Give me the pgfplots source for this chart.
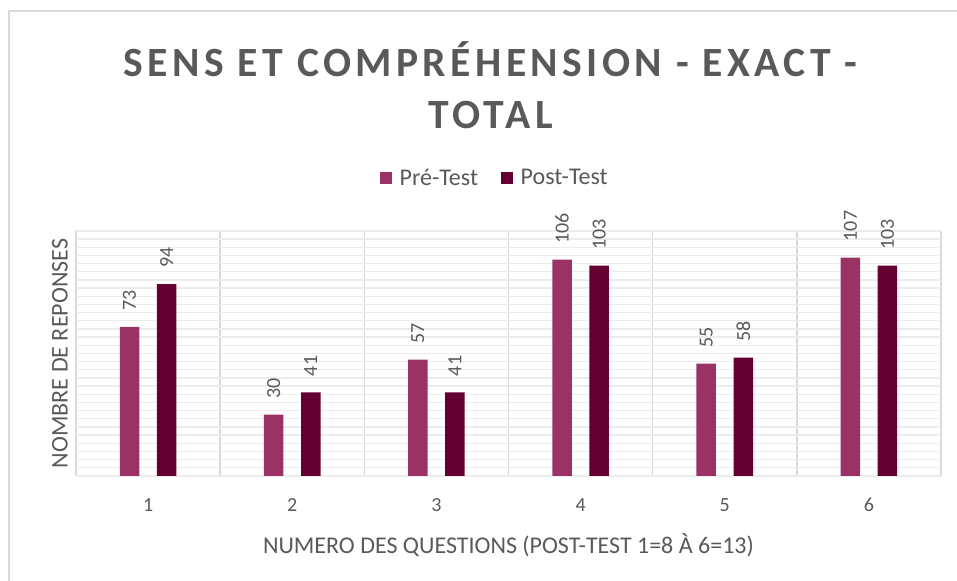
\documentclass[border=0pt]{standalone}
\usepackage{fontspec}
\setmainfont{Carlito}
\newfontfamily\titlefont[LetterSpace=10.6]{Carlito}
\usepackage{pgfplots}
\pgfplotsset{compat=1.18}
\definecolor{pre}{RGB}{153,51,102}
\definecolor{post}{RGB}{102,0,51}
\definecolor{txt}{RGB}{89,89,89}
\definecolor{gridc}{RGB}{236,236,236}
\definecolor{sepc}{RGB}{217,217,217}
\begin{document}
\begin{tikzpicture}
\useasboundingbox (0,0) rectangle (717.75pt,435.75pt);
\draw[sepc, line width=1.2pt] (6.75pt,-2pt) -- (6.75pt,427.5pt) -- (725pt,427.5pt);
\node[anchor=base, text=txt, font=\titlefont\bfseries\fontsize{31.2}{37}\selectfont] at (368pt,378pt) {SENS ET COMPRÉHENSION - EXACT -};
\node[anchor=base, text=txt, font=\titlefont\bfseries\fontsize{31.2}{37}\selectfont] at (368pt,339pt) {TOTAL};
\begin{axis}[
  at={(57pt,78.75pt)}, anchor=south west,
  scale only axis, width=648.75pt, height=183.75pt,
  xmin=0.5, xmax=6.5, ymin=0, ymax=120,
  xtick={1,...,6},
  minor xtick={0.5,1.5,...,6.5},
  xminorgrids,
  minor grid style={sepc, line width=1.1pt},
  ytick={0,4,...,120}, yticklabels={},
  ymajorgrids,
  major grid style={gridc, line width=1pt},
  extra y ticks={0}, extra y tick labels={},
  extra y tick style={grid style={sepc, line width=1.1pt}},
  major tick length=0pt, minor tick length=0pt,
  axis line style={draw=none},
  /pgf/number format/assume math mode=true,
  xticklabel style={anchor=center, yshift=-21.75pt, text=txt, font=\fontsize{15}{18}\selectfont},
  xlabel={NUMERO DES QUESTIONS (POST-TEST 1=8 À 6=13)},
  xlabel style={at={(axis description cs:0.5,-0.2816)}, anchor=center, text=txt, font=\fontsize{18}{22}\selectfont},
  ylabel={NOMBRE DE REPONSES},
  ylabel style={at={(axis description cs:-0.0185,0.5)}, anchor=center, text=txt, font=\fontsize{18}{22}\selectfont},
  ybar, bar width=14.6pt,
  nodes near coords,
  every node near coord/.append style={rotate=90, anchor=west, inner xsep=12pt, text=txt, font=\fontsize{15}{18}\selectfont},
  legend columns=2,
  legend style={at={(axis description cs:0.4844,1.2163)}, anchor=center, draw=none, fill=none, text=txt, font=\fontsize{18}{21}\selectfont, /tikz/every even column/.append style={column sep=15pt}},
  legend image code/.code={\fill[#1] (0pt,-4.5pt) rectangle (9pt,4.5pt); \path (13pt,0pt);},
]
\addplot[fill=pre, draw=none, bar shift=-13.9pt] coordinates {(1,73) (2,30) (3,57) (4,106) (5,55) (6,107)};
\addplot[fill=post, draw=none, bar shift=13.9pt] coordinates {(1,94) (2,41) (3,41) (4,103) (5,58) (6,103)};
\legend{Pré-Test, Post-Test}
\end{axis}
\end{tikzpicture}
\end{document}
